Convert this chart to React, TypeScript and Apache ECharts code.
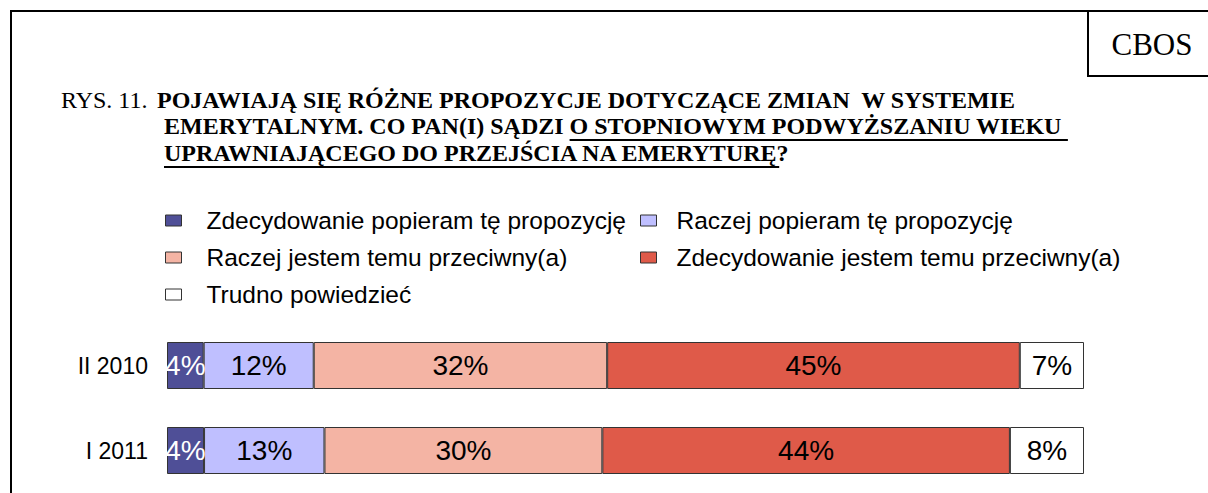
import React, { useEffect, useRef } from "react";
import * as echarts from "echarts";

const categories = ["II 2010", "I 2011"];
const seriesNames = [
  "Zdecydowanie popieram tę propozycję",
  "Raczej popieram tę propozycję",
  "Raczej jestem temu przeciwny(a)",
  "Zdecydowanie jestem temu przeciwny(a)",
  "Trudno powiedzieć",
];
const strongSupport = [4, 4];
const ratherSupport = [12, 13];
const ratherAgainst = [32, 30];
const strongAgainst = [45, 44];
const hardToSay = [7, 8];
const seriesValues = [strongSupport, ratherSupport, ratherAgainst, strongAgainst, hardToSay];
const colors = ["#4f4f97", "#bfbfff", "#f4b4a4", "#df5a49", "#ffffff"];
const labelColors = ["#ffffff", "#000000", "#000000", "#000000", "#000000"];

const SERIF = "'Liberation Serif', 'Times New Roman', serif";
const SANS = "'Liberation Sans', Arial, sans-serif";

function measure(text: string, font: string): number {
  const c = document.createElement("canvas");
  const ctx = c.getContext("2d")!;
  ctx.font = font;
  return ctx.measureText(text).width;
}

export default function App() {
  const ref = useRef<HTMLDivElement>(null);
  useEffect(() => {
    if (!ref.current) return;
    const chart = echarts.init(ref.current, null, { renderer: "svg" });

    const totals = categories.map((_, i) => seriesValues.reduce((s, arr) => s + arr[i], 0));

    const titleSize = 24;
    const boldFont = `bold ${titleSize}px 'Liberation Serif'`;
    const l1x = 157;
    const l2x = 164;
    const l3x = 164;
    const line2a = "EMERYTALNYM. CO PAN(I) SĄDZI ";
    const line2b = "O STOPNIOWYM PODWYŻSZANIU WIEKU ";
    const line3a = "UPRAWNIAJĄCEGO DO PRZEJŚCIA NA EMERYTURĘ";
    const u2start = l2x + measure(line2a, boldFont);
    const u2end = u2start + measure(line2b, boldFont);
    const u3end = l3x + measure(line3a, boldFont);

    const legendPos = [
      { left: 165, top: 208, gap: 20 },
      { left: 640, top: 208, gap: 15 },
      { left: 165, top: 245, gap: 20 },
      { left: 640, top: 245, gap: 15 },
      { left: 165, top: 282, gap: 20 },
    ];

    const textStyle = (size: number, bold: boolean, family: string) => ({
      fontSize: size,
      fontWeight: bold ? "bold" : "normal",
      fontFamily: family,
      fill: "#000",
      align: "left",
      verticalAlign: "middle",
    });

    chart.setOption({
      animation: false,
      backgroundColor: "#ffffff",
      grid: { left: 167, right: 124, top: 323, height: 170 },
      xAxis: { type: "value", min: 0, max: 100, show: false, splitLine: { show: false } },
      yAxis: {
        type: "category",
        data: categories,
        inverse: true,
        axisLine: { show: false },
        axisTick: { show: false },
        axisLabel: { fontSize: 23, fontFamily: SANS, color: "#000", margin: 19 },
      },
      legend: seriesNames.map((name, i) => ({
        data: [name],
        left: legendPos[i].left,
        top: legendPos[i].top,
        padding: 0,
        itemWidth: 16,
        itemHeight: 11,
        icon: "rect",
        selectedMode: false,
        itemStyle: { borderColor: "#333", borderWidth: 1 },
        textStyle: {
          fontSize: 24.5,
          fontFamily: SANS,
          color: "#000",
          padding: [0, 0, 0, legendPos[i].gap],
        },
      })),
      series: seriesNames.map((name, si) => ({
        name,
        type: "bar",
        stack: "total",
        barWidth: 47,
        itemStyle: { color: colors[si], borderColor: "#333", borderWidth: 1 },
        label: {
          show: true,
          position: "inside",
          fontSize: 28,
          fontFamily: SANS,
          color: labelColors[si],
          formatter: (p: any) => `${p.data.raw}%`,
        },
        data: seriesValues[si].map((v, ci) => ({ value: (v / totals[ci]) * 100, raw: v })),
      })),
      graphic: [
        { type: "line", shape: { x1: 10, y1: 11, x2: 1208, y2: 11 }, style: { stroke: "#000", lineWidth: 2 } },
        { type: "line", shape: { x1: 11, y1: 10, x2: 11, y2: 493 }, style: { stroke: "#000", lineWidth: 2 } },
        { type: "line", shape: { x1: 1088, y1: 11, x2: 1088, y2: 76 }, style: { stroke: "#000", lineWidth: 2 } },
        { type: "line", shape: { x1: 1087, y1: 76, x2: 1208, y2: 76 }, style: { stroke: "#000", lineWidth: 2 } },
        {
          type: "text",
          x: 1152,
          y: 44,
          style: { ...textStyle(31, false, SERIF), text: "CBOS", align: "center" },
        },
        { type: "text", x: 61, y: 100, style: { ...textStyle(titleSize, false, SERIF), text: "RYS. 11." } },
        {
          type: "text",
          x: l1x,
          y: 100,
          style: {
            ...textStyle(titleSize, true, SERIF),
            text: "POJAWIAJĄ SIĘ RÓŻNE PROPOZYCJE DOTYCZĄCE ZMIAN  W SYSTEMIE",
          },
        },
        {
          type: "text",
          x: l2x,
          y: 126,
          style: { ...textStyle(titleSize, true, SERIF), text: line2a + line2b },
        },
        {
          type: "text",
          x: l3x,
          y: 153,
          style: { ...textStyle(titleSize, true, SERIF), text: line3a + "?" },
        },
        { type: "line", shape: { x1: u2start, y1: 140, x2: u2end, y2: 140 }, style: { stroke: "#000", lineWidth: 2 } },
        { type: "line", shape: { x1: l3x, y1: 167, x2: u3end, y2: 167 }, style: { stroke: "#000", lineWidth: 2 } },
      ],
    });
    return () => chart.dispose();
  }, []);
  return (
    <div
      ref={ref}
      style={{ position: "fixed", left: 0, top: 0, width: 1208, height: 493, background: "#fff" }}
    />
  );
}
